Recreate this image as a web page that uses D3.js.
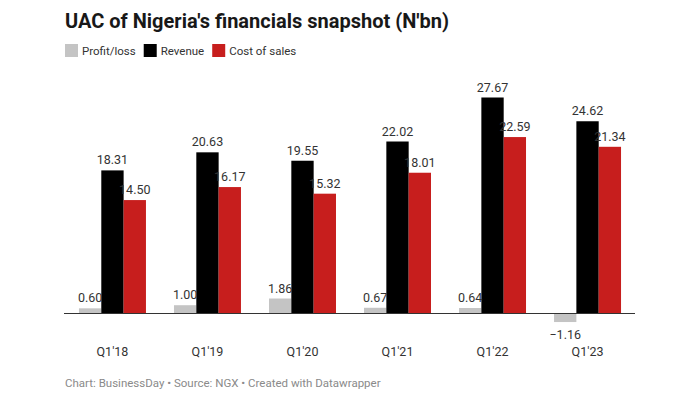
<!DOCTYPE html>
<html>
<head>
<meta charset="utf-8">
<script src="https://cdn.jsdelivr.net/npm/d3@7"></script>
<style>
  body { margin: 0; background: #fff; font-family: Roboto, "Noto Sans", sans-serif; }
  svg text { font-family: Roboto, "Noto Sans", sans-serif; }
</style>
</head>
<body>
<svg id="chart" width="700" height="400"></svg>
<script>
const quarters = ["Q1'18", "Q1'19", "Q1'20", "Q1'21", "Q1'22", "Q1'23"];
const seriesNames = ['Profit/loss', 'Revenue', 'Cost of sales'];
const profitLoss = [0.60, 1.00, 1.86, 0.67, 0.64, -1.16];
const revenue = [18.31, 20.63, 19.55, 22.02, 27.67, 24.62];
const costOfSales = [14.50, 16.17, 15.32, 18.01, 22.59, 21.34];
const colors = ['#c4c4c4', '#000000', '#c71e1d'];

const svg = d3.select('#chart');

// title + legend
svg.append('text')
    .attr('x', 65).attr('y', 28)
    .attr('font-size', 20).attr('font-weight', 700).attr('fill', '#181818')
    .text("UAC of Nigeria's financials snapshot (N'bn)");

const legend = svg.append('g').attr('transform', 'translate(65,44)');
let lx = 0;
seriesNames.forEach((name, i) => {
    const item = legend.append('g').attr('transform', `translate(${lx},0)`);
    item.append('rect').attr('width', 13).attr('height', 13).attr('fill', colors[i]);
    const t = item.append('text')
        .attr('x', 17).attr('y', 11)
        .attr('font-size', 11.5).attr('fill', '#333')
        .text(name);
    lx += 17 + t.node().getComputedTextLength() + 8;
});

const series = [profitLoss, revenue, costOfSales];
const data = quarters.map((q, i) => ({
    q,
    values: series.map((s, j) => ({ key: seriesNames[j], value: s[i], color: colors[j] })),
}));

const x0 = d3.scaleBand().domain(quarters).range([65, 635]).paddingInner(0.295).paddingOuter(0.147);
const x1 = d3.scaleBand().domain(seriesNames).range([0, x0.bandwidth()]);
const y = d3.scaleLinear().domain([0, 27.67]).range([313, 97.5]);

const groups = svg.selectAll('g.group')
    .data(data)
    .enter()
    .append('g')
    .attr('class', 'group')
    .attr('transform', (d) => `translate(${x0(d.q)},0)`);

groups.selectAll('rect')
    .data((d) => d.values)
    .enter()
    .append('rect')
    .attr('x', (d) => x1(d.key))
    .attr('width', x1.bandwidth())
    .attr('y', (d) => y(Math.max(0, d.value)))
    .attr('height', (d) => Math.abs(y(d.value) - y(0)))
    .attr('fill', (d) => d.color);

groups.selectAll('text.val')
    .data((d) => d.values)
    .enter()
    .append('text')
    .attr('class', 'val')
    .attr('x', (d) => x1(d.key) + x1.bandwidth() / 2)
    .attr('y', (d) => d.value >= 0 ? y(d.value) - 6 : y(d.value) + 17)
    .attr('text-anchor', 'middle')
    .attr('font-size', 12.5)
    .attr('fill', '#333')
    .text((d) => d.value < 0 ? '\u2212' + Math.abs(d.value).toFixed(2) : d.value.toFixed(2));

// baseline
svg.append('line')
    .attr('x1', 64).attr('x2', 635)
    .attr('y1', y(0) + 0.5).attr('y2', y(0) + 0.5)
    .attr('stroke', '#333').attr('stroke-width', 1);

// x labels
svg.append('g')
    .selectAll('text')
    .data(quarters)
    .enter()
    .append('text')
    .attr('x', (d) => x0(d) + x0.bandwidth() / 2)
    .attr('y', 356)
    .attr('text-anchor', 'middle')
    .attr('font-size', 12.5)
    .attr('fill', '#333')
    .text((d) => d);

svg.append('text')
    .attr('x', 65).attr('y', 387)
    .attr('font-size', 11.5).attr('fill', '#8a8a8a')
    .text('Chart: BusinessDay \u2022 Source: NGX \u2022 Created with Datawrapper');
</script>
</body>
</html>
